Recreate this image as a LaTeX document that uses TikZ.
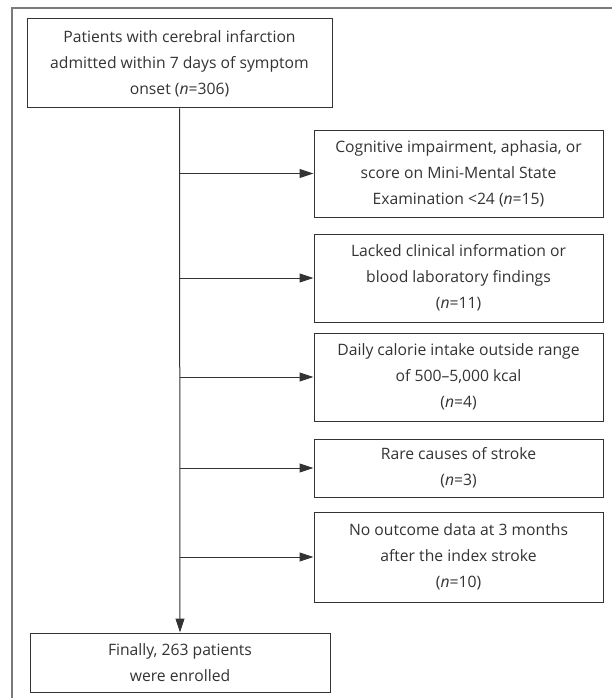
\documentclass[tikz,border=0pt]{standalone}
\usepackage{fontspec}
\setmainfont{Open Sans}
\usepackage{xcolor}
\usetikzlibrary{positioning,calc,arrows.meta}
\definecolor{lineclr}{HTML}{333333}
\definecolor{frameclr}{HTML}{7A7A7A}

\begin{document}
\begin{tikzpicture}[x=1pt,y=-1pt,
    box/.style={draw=lineclr,line width=1pt,rectangle,align=center,inner sep=2pt,
      text=lineclr,font=\fontsize{15.7}{26}\selectfont},
    arr/.style={draw=lineclr,line width=1pt,-{Triangle[length=14pt,width=9pt]}}]
    \useasboundingbox (0,0) rectangle (612,698);
    % outer frame (top and left only)
    \draw[frameclr,line width=1.2pt] (12,698) -- (12,8) -- (612,8);

    \node[box,minimum width=305pt,minimum height=89pt] (start) at (179.5,63.5)
      {Patients with cerebral infarction\\admitted within 7 days of symptom\\onset ({\itshape n}=306)};
    \node[box,minimum width=300pt,minimum height=59pt] (final) at (180,662.5)
      {Finally, 263 patients\\were enrolled};

    % Exclusions
    \node[box,minimum width=289pt,minimum height=87pt] (exA) at (458.5,173.5)
      {Cognitive impairment, aphasia, or\\score on Mini-Mental State\\Examination {<}24 ({\itshape n}=15)};
    \node[box,minimum width=289pt,minimum height=88pt] (exB) at (458.5,278)
      {Lacked clinical information or\\blood laboratory findings\\({\itshape n}=11)};
    \node[box,minimum width=289pt,minimum height=88pt] (exC) at (458.5,377)
      {Daily calorie intake outside range\\of 500--5,000 kcal\\({\itshape n}=4)};
    \node[box,minimum width=289pt,minimum height=58pt] (exD) at (458.5,468)
      {Rare causes of stroke\\({\itshape n}=3)};
    \node[box,minimum width=289pt,minimum height=90pt] (exE) at (458.5,557)
      {No outcome data at 3 months\\after the index stroke\\({\itshape n}=10)};

    \draw[arr] (start.south) -- (final.north);
    \foreach \ex in {exA,exB,exC,exD,exE}
      \draw[arr] (start.south |- \ex.west) -- (\ex.west);
\end{tikzpicture}
\end{document}
